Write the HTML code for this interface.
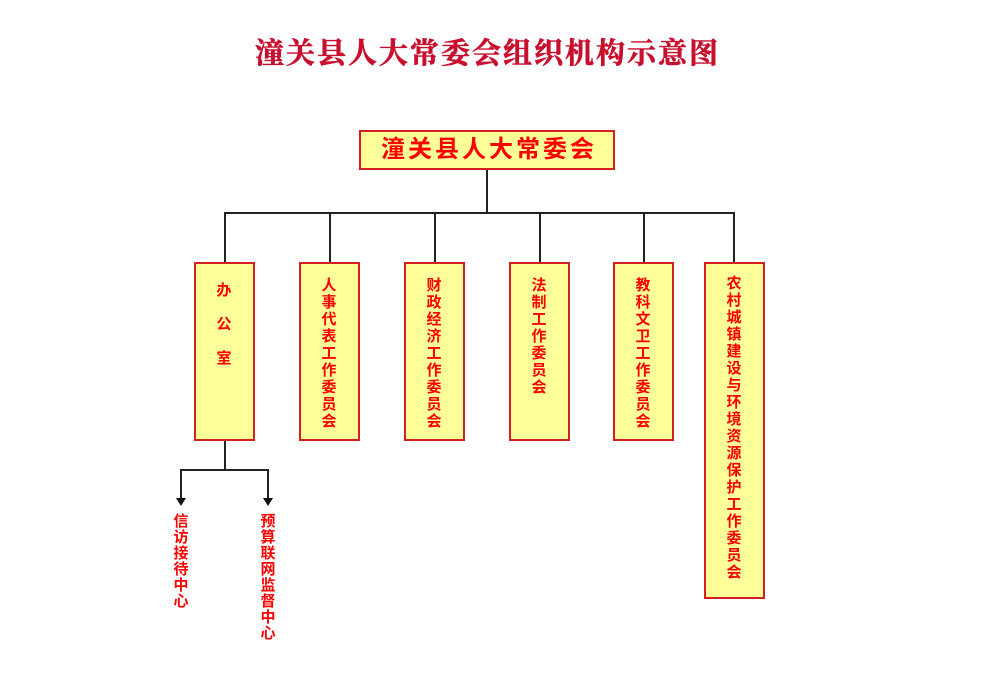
<!DOCTYPE html>
<html><head><meta charset="utf-8"><style>
body{margin:0;width:983px;height:678px;background:#fff;position:relative;overflow:hidden;font-family:"Liberation Sans","Noto Sans CJK SC",sans-serif}
.t{position:absolute;left:0;width:975px;top:31px;text-align:center;font:bold 29px "Liberation Serif","Noto Serif CJK SC",serif;color:#c8102e;letter-spacing:2px;-webkit-text-stroke:0.6px #c8102e}
.b{position:absolute;background:#ffff99;border:2px solid #d42020;box-sizing:border-box}
.v{position:absolute;width:60px;text-align:center;color:#f00;font-weight:bold;font-size:15px;line-height:17px}
.l{position:absolute;background:#222}
.s{position:absolute;color:#f00;font-weight:bold;font-size:15px;line-height:16px;width:20px;text-align:center}
</style></head><body>
<div class="t">潼关县人大常委会组织机构示意图</div>
<div class="b" style="left:359px;top:130px;width:256px;height:40px"></div>
<div style="position:absolute;left:361px;top:130px;width:256px;height:40px;line-height:40px;text-align:center;color:#f00;font-weight:bold;font-size:24px;letter-spacing:3px">潼关县人大常委会</div>
<div class="l" style="left:486px;top:170px;width:2px;height:43px"></div>
<div class="l" style="left:224px;top:212px;width:511px;height:2px"></div>
<div class="l" style="left:224px;top:212px;width:2px;height:50px"></div>
<div class="l" style="left:329px;top:212px;width:2px;height:50px"></div>
<div class="l" style="left:434px;top:212px;width:2px;height:50px"></div>
<div class="l" style="left:539px;top:212px;width:2px;height:50px"></div>
<div class="l" style="left:643px;top:212px;width:2px;height:50px"></div>
<div class="l" style="left:733px;top:212px;width:2px;height:50px"></div>

<div class="b" style="left:194px;top:262px;width:61px;height:179px"></div>
<div class="v" style="left:194px;top:274px;line-height:34px">办<br>公<br>室</div>
<div class="b" style="left:299px;top:262px;width:61px;height:179px"></div>
<div class="v" style="left:299px;top:277px">人<br>事<br>代<br>表<br>工<br>作<br>委<br>员<br>会</div>
<div class="b" style="left:404px;top:262px;width:61px;height:179px"></div>
<div class="v" style="left:404px;top:277px">财<br>政<br>经<br>济<br>工<br>作<br>委<br>员<br>会</div>
<div class="b" style="left:509px;top:262px;width:61px;height:179px"></div>
<div class="v" style="left:509px;top:277px">法<br>制<br>工<br>作<br>委<br>员<br>会</div>
<div class="b" style="left:613px;top:262px;width:61px;height:179px"></div>
<div class="v" style="left:613px;top:277px">教<br>科<br>文<br>卫<br>工<br>作<br>委<br>员<br>会</div>
<div class="b" style="left:704px;top:262px;width:61px;height:337px"></div>
<div class="v" style="left:704px;top:275px">农<br>村<br>城<br>镇<br>建<br>设<br>与<br>环<br>境<br>资<br>源<br>保<br>护<br>工<br>作<br>委<br>员<br>会</div>

<div class="l" style="left:224px;top:441px;width:2px;height:30px"></div>
<div class="l" style="left:181px;top:469px;width:88px;height:2px"></div>
<div class="l" style="left:180px;top:469px;width:2px;height:30px"></div>
<div class="l" style="left:267px;top:469px;width:2px;height:30px"></div>
<svg style="position:absolute;left:0;top:0" width="983" height="678"><polygon points="176,498 186,498 181,506" fill="#111"/><polygon points="263,498 273,498 268,506" fill="#111"/></svg>
<div class="s" style="left:171px;top:514px">信<br>访<br>接<br>待<br>中<br>心</div>
<div class="s" style="left:258px;top:514px">预<br>算<br>联<br>网<br>监<br>督<br>中<br>心</div>
</body></html>
